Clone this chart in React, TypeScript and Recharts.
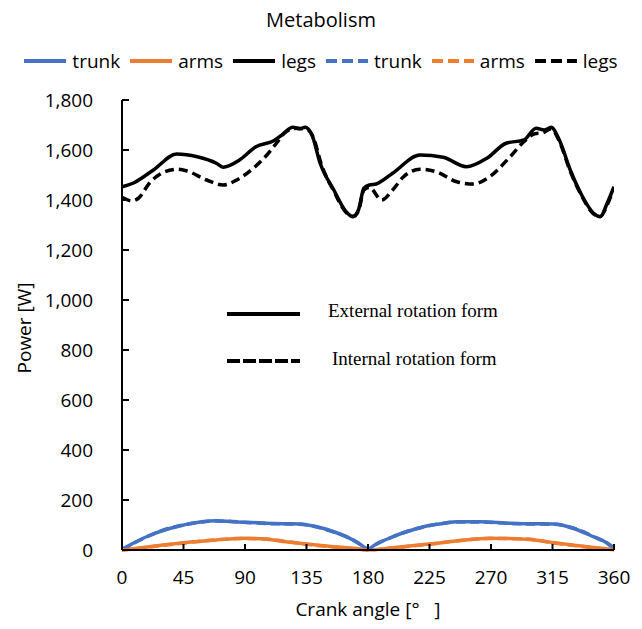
import { LineChart, Line, XAxis, YAxis, Legend, Label } from 'recharts';

const xTicks = [0, 45, 90, 135, 180, 225, 270, 315, 360];
const yTicks = [0, 200, 400, 600, 800, 1000, 1200, 1400, 1600, 1800];

// crank angle [deg] / power [W]
const trunkExtAngle = [0, 10, 20, 30, 42, 57, 69, 81, 95, 106, 120, 130, 140, 155, 169, 175, 180, 185, 198, 210, 223, 235, 245, 262, 284, 300, 316, 330, 345, 355, 360];
const trunkExtPower = [3, 32, 58, 78, 96, 112, 117, 113, 110, 107, 105, 104, 96, 73, 40, 20, 4, 20, 53, 76, 96, 106, 113, 113, 107, 105, 104, 87, 53, 28, 8];
const trunkIntAngle = [0, 10, 20, 30, 42, 57, 69, 81, 95, 106, 120, 130, 140, 155, 169, 175, 180, 185, 198, 210, 223, 235, 245, 262, 284, 300, 316, 330, 345, 355, 360];
const trunkIntPower = [2, 31, 57, 79, 97, 111, 116, 114, 109, 106, 104, 103, 95, 72, 41, 21, 3, 21, 52, 77, 95, 107, 112, 112, 106, 104, 103, 88, 54, 27, 7];

const armsExtAngle = [0, 10, 20, 45, 69, 89, 106, 120, 135, 155, 174, 180, 198, 223, 247, 269, 296, 316, 340, 360];
const armsExtPower = [0, 6, 13, 29, 40, 47, 43, 33, 24, 13, 4, 0, 9, 23, 37, 47, 43, 29, 13, 2];
const armsIntAngle = [0, 10, 20, 45, 69, 89, 106, 120, 135, 155, 174, 180, 198, 223, 247, 269, 296, 316, 340, 360];
const armsIntPower = [0, 5, 12, 28, 41, 46, 44, 34, 23, 12, 3, 0, 8, 22, 38, 46, 44, 28, 12, 1];

const legsExtAngle = [0, 8, 23, 40, 55, 69, 74, 86, 98, 111, 117, 125, 130, 134, 139, 145, 155, 164, 169, 173, 177, 181, 186, 198, 218, 235, 252, 267, 281, 294, 303, 309, 314, 320, 328, 337, 345, 350, 355, 360];
const legsExtPower = [1453, 1467, 1520, 1584, 1573, 1547, 1531, 1560, 1613, 1637, 1660, 1691, 1685, 1691, 1660, 1547, 1440, 1353, 1333, 1360, 1447, 1460, 1464, 1507, 1580, 1571, 1533, 1567, 1627, 1640, 1687, 1680, 1691, 1640, 1520, 1413, 1347, 1333, 1387, 1453];
const legsIntAngle = [0, 7, 12, 20, 29, 40, 47, 62, 74, 84, 96, 106, 113, 120, 128, 136, 140, 146, 155, 164, 169, 173, 177, 181, 190, 198, 206, 218, 230, 245, 257, 269, 284, 294, 302, 308, 314, 320, 328, 337, 345, 350, 355, 360];
const legsIntPower = [1411, 1397, 1407, 1467, 1507, 1523, 1517, 1480, 1460, 1480, 1527, 1580, 1627, 1673, 1687, 1680, 1650, 1540, 1435, 1350, 1335, 1355, 1440, 1450, 1400, 1440, 1493, 1523, 1513, 1473, 1464, 1493, 1573, 1633, 1665, 1669, 1685, 1635, 1515, 1410, 1345, 1335, 1380, 1450];

const toPoints = (angles: number[], power: number[]) => angles.map((a, i) => ({ a, p: power[i] }));

const BLUE = '#4472C4';
const ORANGE = '#ED7D31';
const DASH = '9 5';

const series = [
  { key: 'trunkExt', name: 'trunk', color: BLUE, dash: undefined, data: toPoints(trunkExtAngle, trunkExtPower) },
  { key: 'armsExt', name: 'arms', color: ORANGE, dash: undefined, data: toPoints(armsExtAngle, armsExtPower) },
  { key: 'legsExt', name: 'legs', color: '#000', dash: undefined, data: toPoints(legsExtAngle, legsExtPower) },
  { key: 'trunkInt', name: 'trunk', color: BLUE, dash: DASH, data: toPoints(trunkIntAngle, trunkIntPower) },
  { key: 'armsInt', name: 'arms', color: ORANGE, dash: DASH, data: toPoints(armsIntAngle, armsIntPower) },
  { key: 'legsInt', name: 'legs', color: '#000', dash: DASH, data: toPoints(legsIntAngle, legsIntPower) },
];

const FONT = '"Open Sans", sans-serif';
const SERIF = '"Liberation Serif", "Times New Roman", serif';

const renderLegend = () => (
  <div style={{ display: 'flex', justifyContent: 'center', alignItems: 'center', fontFamily: FONT, fontSize: 19, color: '#000' }}>
    {series.map((s, i) => (
      <div key={s.key} style={{ display: 'flex', alignItems: 'center', marginRight: i < series.length - 1 ? 10 : 0 }}>
        <svg width={42} height={8}>
          <line x1={0} y1={4} x2={42} y2={4} stroke={s.color} strokeWidth={4} strokeDasharray={s.dash ? '11 5' : undefined} />
        </svg>
        <span style={{ marginLeft: 6 }}>{s.name}</span>
      </div>
    ))}
  </div>
);

export default function App() {
  return (
    <div style={{ position: 'absolute', left: 0, top: 0, width: 642, height: 629, background: '#fff' }}>
      <div style={{ position: 'absolute', top: 6, width: 642, textAlign: 'center', fontFamily: FONT, fontSize: 20 }}>
        Metabolism
      </div>
      <LineChart width={642} height={629} margin={{ top: 100, right: 28, left: 0, bottom: 0 }}>
        <XAxis
          dataKey="a"
          type="number"
          domain={[0, 360]}
          ticks={xTicks}
          allowDataOverflow
          height={79}
          tickSize={-6}
          tickMargin={27}
          axisLine={{ stroke: '#000', strokeWidth: 2 }}
          tickLine={{ stroke: '#000', strokeWidth: 2 }}
          tick={{ fill: '#000', fontSize: 19, fontFamily: FONT }}
        >
          <Label
            content={() => (
              <text x={368} y={611} textAnchor="middle" dominantBaseline="middle" fontFamily={FONT} fontSize={19} fill="#000">
                {'Crank angle [°\u00a0\u00a0\u00a0]'}
              </text>
            )}
          />
        </XAxis>
        <YAxis
          type="number"
          domain={[0, 1800]}
          ticks={yTicks}
          width={122}
          tickSize={-7}
          tickMargin={36}
          tickFormatter={(v: number) => v.toLocaleString('en-US')}
          axisLine={{ stroke: '#000', strokeWidth: 2 }}
          tickLine={{ stroke: '#000', strokeWidth: 2 }}
          tick={{ fill: '#000', fontSize: 19, fontFamily: FONT }}
        >
          <Label
            content={() => (
              <text x={26} y={328} transform="rotate(-90 26 328)" textAnchor="middle" dominantBaseline="middle" fontFamily={FONT} fontSize={19} fill="#000">
                Power [W]
              </text>
            )}
          />
        </YAxis>
        <Legend verticalAlign="middle" layout="horizontal" content={renderLegend} wrapperStyle={{ top: 48, left: 0, width: 642 }} />
        {series.map((s) => (
          <Line
            key={s.key}
            data={s.data}
            dataKey="p"
            name={s.name}
            stroke={s.color}
            strokeWidth={3.5}
            strokeDasharray={s.dash}
            dot={false}
            activeDot={false}
            type="monotone"
            isAnimationActive={false}
          />
        ))}
      </LineChart>
      <svg width={642} height={629} style={{ position: 'absolute', left: 0, top: 0, pointerEvents: 'none' }}>
        <line x1={227} y1={314} x2={300} y2={314} stroke="#000" strokeWidth={4} />
        <text x={328} y={313} dominantBaseline="middle" fontFamily={SERIF} fontSize={19}>
          External rotation form
        </text>
        <line x1={227} y1={361} x2={300} y2={361} stroke="#000" strokeWidth={4} strokeDasharray="13 3" />
        <text x={332} y={361} dominantBaseline="middle" fontFamily={SERIF} fontSize={19}>
          Internal rotation form
        </text>
      </svg>
    </div>
  );
}
